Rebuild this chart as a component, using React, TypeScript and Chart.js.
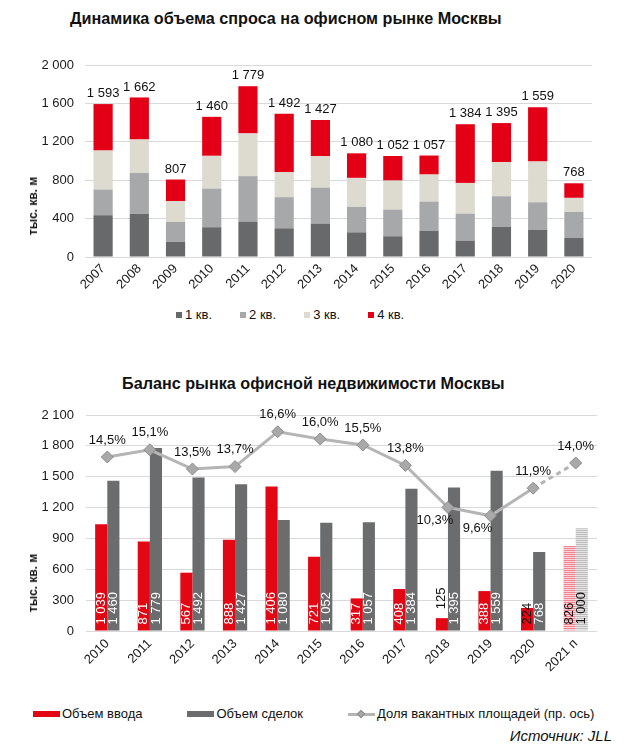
import React, { useEffect, useRef } from 'react';
import { Chart, registerables } from 'chart.js';

Chart.register(...registerables);

const FONT = 'Arial, "Liberation Sans", sans-serif';

// ---- Chart 1: demand dynamics (thousand sq. m) ----
const years = ['2007', '2008', '2009', '2010', '2011', '2012', '2013', '2014', '2015', '2016', '2017', '2018', '2019', '2020'];
const q1 = [435, 449, 157, 310, 369, 299, 348, 257, 216, 271, 170, 313, 282, 198];
const q2 = [268, 427, 208, 403, 473, 324, 375, 265, 278, 306, 282, 320, 288, 272];
const q3 = [406, 348, 216, 341, 445, 260, 327, 302, 302, 282, 320, 355, 425, 146];
const q4 = [484, 438, 226, 406, 492, 609, 377, 256, 256, 198, 612, 407, 564, 152];
const quarterNames = ['1 кв.', '2 кв.', '3 кв.', '4 кв.'];

// ---- Chart 2: market balance ----
const balanceYears = ['2010', '2011', '2012', '2013', '2014', '2015', '2016', '2017', '2018', '2019', '2020', '2021 п'];
const completions = [1039, 871, 567, 888, 1406, 721, 317, 408, 125, 388, 224, 826];
const transactions = [1460, 1779, 1492, 1427, 1080, 1052, 1057, 1384, 1395, 1559, 768, 1000];
const vacancy = [14.5, 15.1, 13.5, 13.7, 16.6, 16.0, 15.5, 13.8, 10.3, 9.6, 11.9, 14.0];
const seriesNames = ['Объем ввода', 'Объем сделок', 'Доля вакантных площадей (пр. ось)'];

const QCOLORS = ['#68696b', '#a7a8aa', '#dddad0', '#e30016'];
const RED = '#e30613';
const DARK = '#6b6c6e';
const LINE = '#b5b5b5';
const GRID = '#d9d9d9';

const fmt = (n: number) => {
  const s = String(Math.round(n));
  return s.length > 3 ? s.slice(0, s.length - 3) + ' ' + s.slice(s.length - 3) : s;
};
const fmtPct = (v: number) => v.toFixed(1).replace('.', ',') + '%';

function stripe(ctx: CanvasRenderingContext2D, c1: string, c2: string) {
  const cv = document.createElement('canvas');
  cv.width = 2;
  cv.height = 2;
  const x = cv.getContext('2d')!;
  x.fillStyle = c1;
  x.fillRect(0, 0, 2, 1);
  x.fillStyle = c2;
  x.fillRect(0, 1, 2, 1);
  return ctx.createPattern(cv, 'repeat') as CanvasPattern;
}

export default function App() {
  const topRef = useRef<HTMLCanvasElement>(null);
  const botRef = useRef<HTMLCanvasElement>(null);

  useEffect(() => {
    const totalsPlugin = {
      id: 'totals',
      afterDatasetsDraw(chart: any) {
        const ctx = chart.ctx;
        const meta = chart.getDatasetMeta(3);
        ctx.save();
        ctx.font = `13px ${FONT}`;
        ctx.fillStyle = '#111';
        ctx.textAlign = 'center';
        ctx.textBaseline = 'bottom';
        meta.data.forEach((el: any, i: number) => {
          const total = q1[i] + q2[i] + q3[i] + q4[i];
          ctx.fillText(fmt(total), el.x, el.y - 4);
        });
        ctx.restore();
      },
    };

    const top = new Chart(topRef.current!, {
      type: 'bar',
      data: {
        labels: years,
        datasets: [q1, q2, q3, q4].map((d, k) => ({
          label: quarterNames[k],
          data: d,
          backgroundColor: QCOLORS[k],
          borderWidth: 0,
          barPercentage: 0.53,
          categoryPercentage: 1,
        })),
      },
      options: {
        responsive: false,
        animation: false,
        layout: { padding: { left: 8, right: 38, top: 65, bottom: 3 } },
        plugins: { legend: { display: false }, tooltip: { enabled: false } },
        scales: {
          x: {
            stacked: true,
            grid: { display: false, drawTicks: false },
            border: { display: false },
            ticks: { font: { family: FONT, size: 13 }, color: '#1a1a1a', maxRotation: 45, minRotation: 45, padding: 4 },
            afterFit: (s: any) => { s.height = 45; },
          },
          y: {
            stacked: true,
            min: 0,
            max: 2000,
            grid: { color: GRID, drawTicks: false },
            border: { display: false },
            ticks: { stepSize: 400, font: { family: FONT, size: 13 }, color: '#1a1a1a', padding: 11, callback: (v: any) => fmt(Number(v)) },
            afterFit: (s: any) => { s.width = 77; },
          },
        },
      },
      plugins: [totalsPlugin],
    } as any);

    const bctx = botRef.current!.getContext('2d')!;
    const forecastIndex = balanceYears.length - 1;
    const redHatch = stripe(bctx, '#ef8591', '#fbd3d8');
    const grayHatch = stripe(bctx, '#bdbdbd', '#e4e4e4');

    const labelsPlugin = {
      id: 'barLabels',
      afterDatasetsDraw(chart: any) {
        const ctx = chart.ctx;
        ctx.save();
        ctx.font = `13px ${FONT}`;
        [0, 1].forEach((di) => {
          const src = di === 0 ? completions : transactions;
          chart.getDatasetMeta(di).data.forEach((el: any, i: number) => {
            const text = fmt(src[i]);
            const tw = ctx.measureText(text).width;
            const h = el.base - el.y;
            let y0 = el.base - 6;
            let color = '#ffffff';
            if (i === forecastIndex) color = '#111';
            if (h < tw * 0.75) {
              y0 = el.y - 9;
              color = '#111';
            } else if (h < tw + 10) {
              color = '#111';
            }
            ctx.save();
            ctx.translate(el.x, y0);
            ctx.rotate(-Math.PI / 2);
            ctx.fillStyle = color;
            ctx.textAlign = 'left';
            ctx.textBaseline = 'middle';
            ctx.fillText(text, 0, 0);
            ctx.restore();
          });
        });
        const lm = chart.getDatasetMeta(2);
        ctx.fillStyle = '#111';
        ctx.textAlign = 'center';
        ctx.textBaseline = 'middle';
        lm.data.forEach((pt: any, i: number) => {
          const v = vacancy[i];
          if (v < 11) {
            ctx.fillText(fmtPct(v), pt.x - 13, pt.y + 13);
          } else {
            ctx.fillText(fmtPct(v), pt.x, pt.y - 17);
          }
        });
        ctx.restore();
      },
    };

    const bottom = new Chart(botRef.current!, {
      data: {
        labels: balanceYears,
        datasets: [
          {
            type: 'bar',
            label: seriesNames[0],
            data: completions,
            backgroundColor: completions.map((_, i) => (i === forecastIndex ? redHatch : RED)),
            borderWidth: 0,
            barPercentage: 1,
            categoryPercentage: 0.57,
            yAxisID: 'y',
            order: 2,
          },
          {
            type: 'bar',
            label: seriesNames[1],
            data: transactions,
            backgroundColor: transactions.map((_, i) => (i === forecastIndex ? grayHatch : DARK)),
            borderWidth: 0,
            barPercentage: 1,
            categoryPercentage: 0.57,
            yAxisID: 'y',
            order: 2,
          },
          {
            type: 'line',
            label: seriesNames[2],
            data: vacancy,
            yAxisID: 'y1',
            borderColor: LINE,
            borderWidth: 3,
            pointStyle: 'rectRot',
            pointRadius: 6,
            pointBackgroundColor: '#a9a9a9',
            pointBorderColor: '#8c8c8c',
            pointBorderWidth: 1,
            tension: 0,
            order: 0,
            segment: {
              borderDash: (c: any) => (c.p1DataIndex === forecastIndex ? [5, 4] : undefined),
            },
          },
        ],
      },
      options: {
        responsive: false,
        animation: false,
        layout: { padding: { left: 8, right: 33, top: 75, bottom: 4 } },
        plugins: { legend: { display: false }, tooltip: { enabled: false } },
        scales: {
          x: {
            grid: { display: false, drawTicks: false },
            border: { display: false },
            ticks: { font: { family: FONT, size: 13 }, color: '#1a1a1a', maxRotation: 45, minRotation: 45, padding: 5 },
            afterFit: (s: any) => { s.height = 55; },
          },
          y: {
            min: 0,
            max: 2100,
            grid: { color: GRID, drawTicks: false },
            border: { display: false },
            ticks: { stepSize: 300, font: { family: FONT, size: 13 }, color: '#1a1a1a', padding: 12, callback: (v: any) => fmt(Number(v)) },
            afterFit: (s: any) => { s.width = 78; },
          },
          y1: {
            display: false,
            min: 0,
            max: 18,
            position: 'right',
          },
        },
      },
      plugins: [labelsPlugin],
    } as any);

    return () => {
      top.destroy();
      bottom.destroy();
    };
  }, []);

  const text: React.CSSProperties = { fontFamily: FONT, color: '#111', whiteSpace: 'nowrap', position: 'absolute' };
  const sq = (c: string): React.CSSProperties => ({ display: 'inline-block', width: 6, height: 6, background: c, marginRight: 3 });
  const bar = (c: string): React.CSSProperties => ({ display: 'inline-block', width: 27, height: 6, background: c, marginRight: 2 });

  return (
    <div style={{ position: 'fixed', left: 0, top: 0, width: 630, height: 750, background: '#fff', overflow: 'hidden' }}>
      <div style={{ ...text, left: 70, top: 8, fontSize: 16.2, fontWeight: 'bold', lineHeight: '20px' }}>
        Динамика объема спроса на офисном рынке Москвы
      </div>
      <canvas ref={topRef} width={630} height={305} style={{ position: 'absolute', left: 0, top: 0 }} />
      <div style={{ ...text, left: 33, top: 206, fontSize: 12, fontWeight: 'bold', transform: 'translate(-50%, -50%) rotate(-90deg)' }}>
        тыс. кв. м
      </div>
      <div style={{ ...text, left: 176, top: 307, fontSize: 13, lineHeight: '16px', display: 'flex', gap: 28, alignItems: 'center' }}>
        {quarterNames.map((n, k) => (
          <span key={n} style={{ display: 'inline-flex', alignItems: 'center' }}>
            <span style={sq(QCOLORS[k])} />
            {n}
          </span>
        ))}
      </div>

      <div style={{ ...text, left: 122, top: 373, fontSize: 16.2, fontWeight: 'bold', lineHeight: '20px' }}>
        Баланс рынка офисной недвижимости Москвы
      </div>
      <canvas ref={botRef} width={630} height={350} style={{ position: 'absolute', left: 0, top: 340 }} />
      <div style={{ ...text, left: 33, top: 583, fontSize: 12, fontWeight: 'bold', transform: 'translate(-50%, -50%) rotate(-90deg)' }}>
        тыс. кв. м
      </div>
      <div style={{ ...text, left: 33, top: 706, fontSize: 13, lineHeight: '16px', display: 'flex', gap: 45, alignItems: 'center' }}>
        <span style={{ display: 'inline-flex', alignItems: 'center' }}>
          <span style={bar(RED)} />
          {seriesNames[0]}
        </span>
        <span style={{ display: 'inline-flex', alignItems: 'center' }}>
          <span style={bar(DARK)} />
          {seriesNames[1]}
        </span>
        <span style={{ display: 'inline-flex', alignItems: 'center' }}>
          <span style={{ position: 'relative', display: 'inline-block', width: 27, height: 10, marginRight: 2 }}>
            <span style={{ position: 'absolute', left: 0, top: 4, width: 27, height: 3, background: LINE }} />
            <span
              style={{
                position: 'absolute', left: 10, top: 2, width: 6, height: 6, background: '#a9a9a9',
                border: '1px solid #8c8c8c', transform: 'rotate(45deg)', boxSizing: 'border-box',
              }}
            />
          </span>
          {seriesNames[2]}
        </span>
      </div>
      <div style={{ ...text, right: 18, top: 727, fontSize: 15, fontStyle: 'italic', lineHeight: '18px' }}>
        Источник: JLL
      </div>
    </div>
  );
}
